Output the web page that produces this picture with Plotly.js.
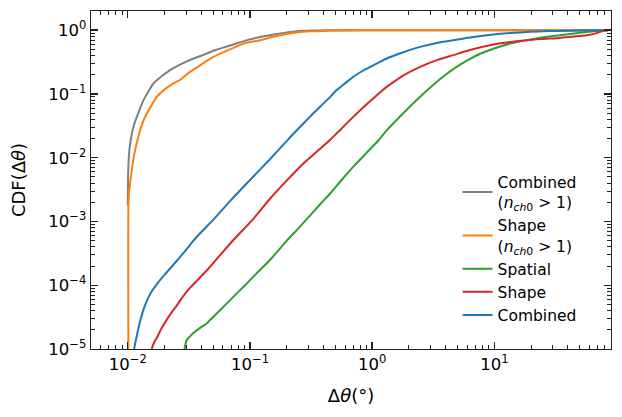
<!DOCTYPE html>
<html>
<head>
<meta charset="utf-8">
<script src="https://cdn.plot.ly/plotly-3.0.1.min.js"></script>
<style>html,body{margin:0;padding:0;background:#fff;}#chart{width:622px;height:417px;}</style>
</head>
<body>
<div id="chart"></div>
<script>
// ---- data ----
const seriesNames = ["Combined<br>(<i>n</i><sub><i>ch</i>0</sub> &gt; 1)", "Shape<br>(<i>n</i><sub><i>ch</i>0</sub> &gt; 1)", "Spatial", "Shape", "Combined"];
const seriesColors = ["#7f7f7f", "#ff7f0e", "#2ca02c", "#d62728", "#1f77b4"];

const grayX = [0.01000, 0.01007, 0.01016, 0.01035, 0.01079, 0.01135, 0.01186, 0.01259, 0.01343, 0.01479, 0.01622, 0.01905, 0.02218, 0.02679, 0.03041, 0.0398, 0.0525, 0.0687, 0.0964, 0.126, 0.160, 0.200, 0.242, 0.316, 0.452, 1.0, 10, 85];
const grayY = [0.00178, 0.00562, 0.00891, 0.0141, 0.0240, 0.0347, 0.0437, 0.0589, 0.0794, 0.110, 0.146, 0.191, 0.236, 0.288, 0.324, 0.398, 0.490, 0.575, 0.705, 0.794, 0.865, 0.923, 0.964, 0.986, 0.995, 0.9995, 1.0, 1.0];

const orangeX = [0.01012, 0.01012, 0.01023, 0.01045, 0.01079, 0.01109, 0.01148, 0.01202, 0.01262, 0.01334, 0.01429, 0.01585, 0.01726, 0.01995, 0.02360, 0.02679, 0.03236, 0.03981, 0.05012, 0.07079, 0.08913, 0.1211, 0.1585, 0.1995, 0.2415, 0.3162, 0.4467, 0.631, 1.0, 85.1];
const orangeY = [5.0e-6, 0.00178, 0.00282, 0.00398, 0.00646, 0.00933, 0.0132, 0.0191, 0.0269, 0.0372, 0.0490, 0.0692, 0.0902, 0.117, 0.146, 0.166, 0.222, 0.288, 0.380, 0.513, 0.617, 0.697, 0.794, 0.871, 0.923, 0.959, 0.982, 0.993, 0.998, 1.0];

const greenX = [0.02884, 0.02917, 0.03041, 0.03236, 0.03443, 0.03908, 0.04426, 0.04710, 0.05623, 0.07798, 0.09120, 0.1122, 0.1462, 0.2000, 0.2512, 0.3162, 0.3750, 0.4529, 0.5623, 0.7015, 0.8913, 1.122, 1.315, 1.778, 2.466, 3.381, 3.981, 4.613, 5.248, 6.324, 7.638, 9.817, 13.49, 18.41, 25.12, 34.51, 50.12, 77.98];
const greenY = [7.94e-6, 1.0e-5, 1.38e-5, 1.58e-5, 1.78e-5, 2.14e-5, 2.51e-5, 2.85e-5, 3.98e-5, 7.46e-5, 1.0e-4, 1.51e-4, 2.51e-4, 5.01e-4, 7.94e-4, 1.29e-3, 1.86e-3, 2.75e-3, 4.47e-3, 7.24e-3, 0.0117, 0.0186, 0.0269, 0.0490, 0.0902, 0.155, 0.200, 0.245, 0.288, 0.355, 0.427, 0.513, 0.617, 0.697, 0.776, 0.836, 0.912, 1.0];

const redX = [0.01549, 0.01570, 0.01660, 0.01758, 0.01837, 0.01995, 0.02239, 0.02512, 0.02679, 0.03133, 0.03631, 0.04426, 0.05623, 0.07311, 0.1066, 0.1462, 0.1995, 0.2735, 0.3750, 0.4529, 0.5623, 0.7015, 0.8913, 1.122, 1.315, 1.585, 1.799, 2.466, 3.388, 4.613, 6.324, 9.817, 13.49, 18.41, 25.12, 34.51, 44.67, 57.02, 67.61, 77.98, 85.11];
const redY = [7.94e-6, 1.0e-5, 1.32e-5, 1.58e-5, 1.91e-5, 2.51e-5, 3.55e-5, 4.79e-5, 5.75e-5, 8.51e-5, 1.15e-4, 1.70e-4, 2.88e-4, 5.13e-4, 1.10e-3, 2.29e-3, 4.37e-3, 8.13e-3, 0.0138, 0.0191, 0.0288, 0.0437, 0.0676, 0.1, 0.129, 0.166, 0.195, 0.266, 0.339, 0.406, 0.490, 0.597, 0.653, 0.697, 0.728, 0.757, 0.794, 0.836, 0.891, 0.975, 1.0];

const blueX = [0.01109, 0.01127, 0.01189, 0.01262, 0.01380, 0.01521, 0.01738, 0.01995, 0.02512, 0.03162, 0.03443, 0.03981, 0.05012, 0.06871, 0.1, 0.1462, 0.1995, 0.2415, 0.3162, 0.3750, 0.4508, 0.5129, 0.6026, 0.7015, 0.8318, 0.9616, 1.122, 1.315, 1.778, 2.466, 3.388, 4.613, 6.324, 9.817, 13.49, 18.41, 25.12, 33.04, 50.12, 77.98];
const blueY = [7.94e-6, 1.0e-5, 1.66e-5, 2.75e-5, 4.79e-5, 7.24e-5, 1.05e-4, 1.45e-4, 2.40e-4, 4.07e-4, 5.01e-4, 6.76e-4, 1.07e-3, 2.09e-3, 4.47e-3, 9.55e-3, 0.0182, 0.0269, 0.0457, 0.0631, 0.0891, 0.115, 0.148, 0.186, 0.229, 0.266, 0.309, 0.360, 0.447, 0.547, 0.631, 0.697, 0.769, 0.857, 0.902, 0.940, 0.962, 0.975, 0.989, 1.0];

const xTickVals = [0.01, 0.1, 1, 10];
const xTickText = ["10<sup>\u22122</sup>", "10<sup>\u22121</sup>", "10<sup>0</sup>", "10<sup>1</sup>"];
const yTickVals = [1e-5, 1e-4, 1e-3, 1e-2, 1e-1, 1];
const yTickText = ["10<sup>\u22125</sup>", "10<sup>\u22124</sup>", "10<sup>\u22123</sup>", "10<sup>\u22122</sup>", "10<sup>\u22121</sup>", "10<sup>0</sup>"];
const xTitle = "\u0394<i>\u03b8</i>(\u00b0)";
const yTitle = "CDF(\u0394<i>\u03b8</i>)";

// ---- build ----
function minorTicks(lo, hi) {
  const v = [];
  for (let e = lo; e <= hi; e++) {
    for (let m = 2; m <= 9; m++) v.push(m * Math.pow(10, e));
  }
  return v;
}

const xs = [grayX, orangeX, greenX, redX, blueX];
const ys = [grayY, orangeY, greenY, redY, blueY];
const traces = xs.map((x, i) => ({
  type: "scatter", mode: "lines", x: x, y: ys[i],
  name: seriesNames[i], line: {color: seriesColors[i], width: 2, shape: "spline", smoothing: 0.7}
}));

const axisCommon = {
  type: "log", showgrid: false, zeroline: false,
  ticks: "inside", ticklen: 7, tickwidth: 1.4, tickcolor: "#222",
  showline: true, linecolor: "#222", linewidth: 1.4, mirror: "ticks",
  tickfont: {family: "DejaVu Sans", size: 16.5, color: "#000"},
  tickmode: "array"
};

const layout = {
  width: 622, height: 417,
  margin: {l: 91, r: 11, t: 11, b: 68},
  paper_bgcolor: "#fff", plot_bgcolor: "#fff",
  font: {family: "DejaVu Sans", color: "#000"},
  showlegend: true,
  legend: {x: 0.705, y: 0.543, xanchor: "left", yanchor: "top", bgcolor: "rgba(0,0,0,0)",
           font: {family: "DejaVu Sans", size: 15.5, color: "#000"}},
  xaxis: Object.assign({}, axisCommon, {
    range: [Math.log10(0.005), Math.log10(90)],
    tickvals: xTickVals, ticktext: xTickText,
    minor: {tickmode: "array", tickvals: minorTicks(-3, 1), ticks: "inside", ticklen: 4, tickwidth: 1, tickcolor: "#222", showgrid: false},
    title: {text: xTitle, font: {family: "DejaVu Sans", size: 18}, standoff: 16}
  }),
  yaxis: Object.assign({}, axisCommon, {
    range: [-5, Math.log10(2)],
    tickvals: yTickVals, ticktext: yTickText,
    minor: {tickmode: "array", tickvals: minorTicks(-6, 0), ticks: "inside", ticklen: 4, tickwidth: 1, tickcolor: "#222", showgrid: false},
    title: {text: yTitle, font: {family: "DejaVu Sans", size: 18}, standoff: 18}
  })
};

Plotly.newPlot("chart", traces, layout, {displayModeBar: false, staticPlot: true});
</script>
</body>
</html>
